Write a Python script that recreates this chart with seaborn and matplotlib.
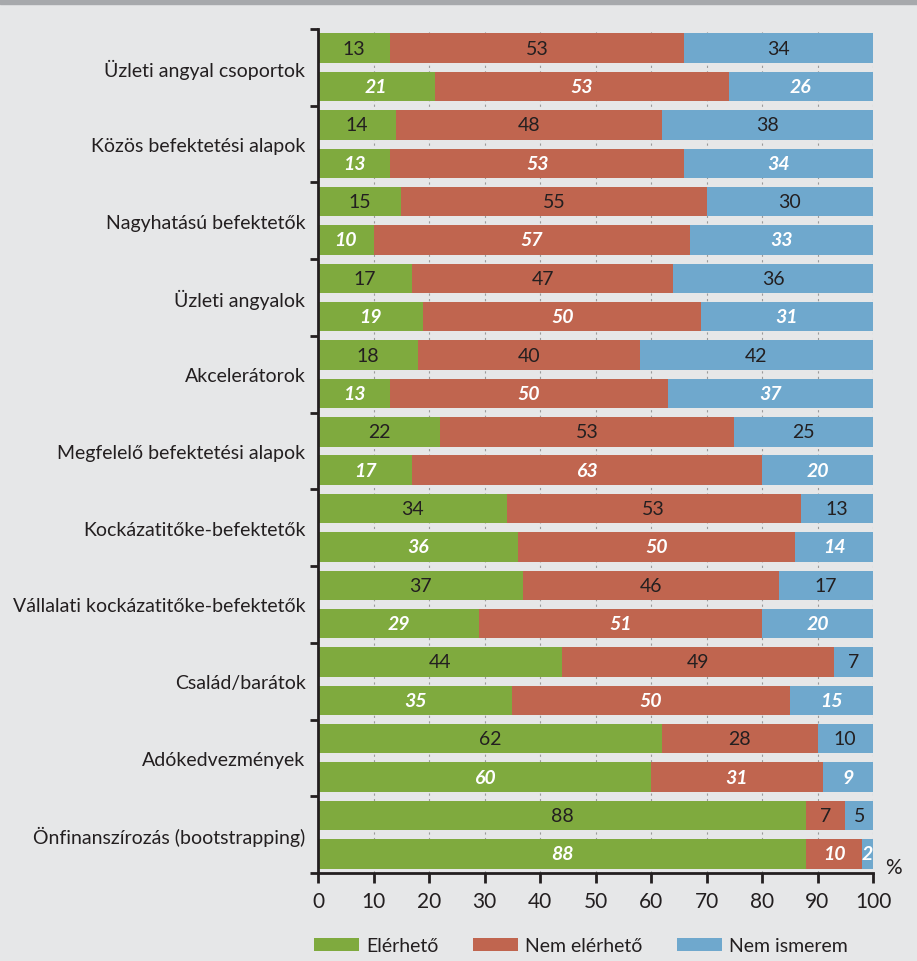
import pandas as pd
import matplotlib.pyplot as plt
import seaborn as sns
from matplotlib.patches import Rectangle, Patch

# Данные
categories = [
    'Üzleti angyal csoportok',
    'Közös befektetési alapok',
    'Nagyhatású befektetők',
    'Üzleti angyalok',
    'Akcelerátorok',
    'Megfelelő befektetési alapok',
    'Kockázatitőke-befektetők',
    'Vállalati kockázatitőke-befektetők',
    'Család/barátok',
    'Adókedvezmények',
    'Önfinanszírozás (bootstrapping)',
]
# первая полоса (обычный шрифт) / вторая полоса (жирный курсив)
elerheto_1 = [13, 14, 15, 17, 18, 22, 34, 37, 44, 62, 88]
nem_elerheto_1 = [53, 48, 55, 47, 40, 53, 53, 46, 49, 28, 7]
nem_ismerem_1 = [34, 38, 30, 36, 42, 25, 13, 17, 7, 10, 5]
elerheto_2 = [21, 13, 10, 19, 13, 17, 36, 29, 35, 60, 88]
nem_elerheto_2 = [53, 53, 57, 50, 50, 63, 50, 51, 50, 31, 10]
nem_ismerem_2 = [26, 34, 33, 31, 37, 20, 14, 20, 15, 9, 2]
series_names = ['Elérhető', 'Nem elérhető', 'Nem ismerem']
colors = ['#7faa3e', '#c0654f', '#6fa8cd']

rows = []
for i in range(len(categories)):
    for k, (g, r, b) in enumerate([(elerheto_1[i], nem_elerheto_1[i], nem_ismerem_1[i]),
                                   (elerheto_2[i], nem_elerheto_2[i], nem_ismerem_2[i])]):
        rows.append({'row': f'r{2 * i + k}', 'kind': k, 'g': g, 'r': r, 'b': b})
df = pd.DataFrame(rows)
df['c1'] = df['g']
df['c2'] = df['g'] + df['r']
df['c3'] = df['g'] + df['r'] + df['b']

sns.set_style('white')
plt.rcParams['font.family'] = ['Lato', 'DejaVu Sans']

bg = '#e6e7e8'
dark = '#231f20'
fig = plt.figure(figsize=(9.17, 9.62), dpi=100, facecolor=bg)
fig.patches.append(Rectangle((0, 1 - 5 / 962), 1, 5 / 962, transform=fig.transFigure,
                             color='#a7a9ac', zorder=0))
ax = fig.add_axes([318 / 917, 1 - 874 / 962, (873 - 318) / 917, 844 / 962])
ax.set_facecolor(bg)

order = list(df['row'])
for col, c in zip(['c3', 'c2', 'c1'], colors[::-1]):
    sns.barplot(data=df, x=col, y='row', order=order, orient='h', color=c,
                width=0.77, linewidth=0, saturation=1, ax=ax, zorder=2)

# подписи значений
for idx, rw in df.iterrows():
    starts = [0, rw['g'], rw['g'] + rw['r']]
    for v, s in zip([rw['g'], rw['r'], rw['b']], starts):
        if rw['kind'] == 0:
            ax.text(s + v / 2, idx, str(v), ha='center', va='center', fontsize=14,
                    color=dark, zorder=5)
        else:
            ax.text(s + v / 2, idx, str(v), ha='center', va='center', fontsize=14,
                    color='white', fontweight='bold', fontstyle='italic', zorder=5)

ax.set_xlim(0, 100)
ax.set_ylim(21.5, -0.5)
ax.set_xticks(range(0, 101, 10))
ax.set_xticklabels([str(v) for v in range(0, 101, 10)], fontsize=15, color=dark)
ax.set_yticks([i - 0.5 for i in range(0, 23, 2)])
ax.set_yticklabels([])
ax.set_yticks([2 * i + 0.5 for i in range(len(categories))], minor=True)
ax.set_yticklabels(categories, minor=True, fontsize=14, color=dark)
ax.tick_params(axis='y', which='major', length=6, width=2, color=dark, left=True)
ax.tick_params(axis='y', which='minor', length=0, pad=9)
ax.tick_params(axis='x', length=7, width=2, color=dark, bottom=True, pad=6)
ax.set_xlabel('')
ax.set_ylabel('')
ax.set_axisbelow(True)
ax.xaxis.grid(True, linestyle=(0, (2, 3)), color='#9a9a9a', linewidth=0.8, zorder=0)
ax.yaxis.grid(False)
sns.despine(ax=ax, top=True, right=True)
for s in ['left', 'bottom']:
    ax.spines[s].set_color(dark)
    ax.spines[s].set_linewidth(2)

fig.text(893 / 917, 1 - 868 / 962, '%', ha='center', va='center', fontsize=15, color=dark)

handles = [Patch(facecolor=c, edgecolor='none') for c in colors]
fig.legend(handles, series_names, loc='center', bbox_to_anchor=(581 / 917, 1 - 947 / 962),
           ncol=3, frameon=False, fontsize=14, handlelength=2.3, handleheight=0.65,
           handletextpad=0.4, columnspacing=1.75, labelcolor=dark)

fig.savefig('out.png', dpi=100, facecolor=bg)
